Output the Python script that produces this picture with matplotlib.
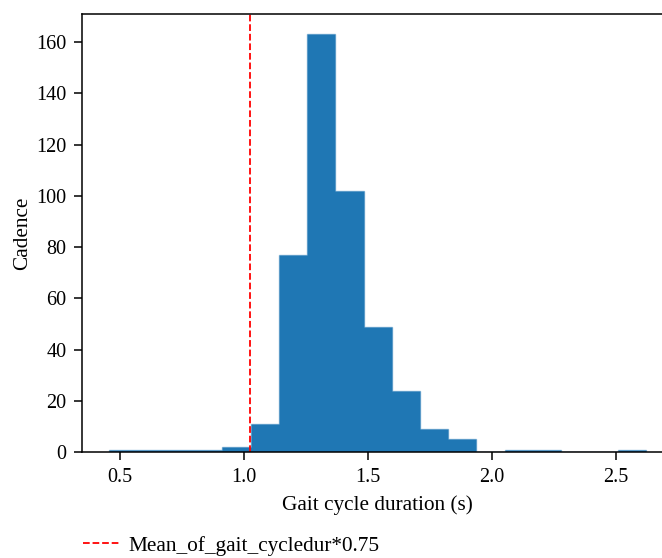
import numpy as np
import matplotlib
matplotlib.use("Agg")
import matplotlib.pyplot as plt
from matplotlib.colors import to_rgba

# histogram of gait cycle durations (seconds), 19 equal bins
bin_start = 0.457
bin_stop = 2.621
n_bins = 19
counts = [1, 1, 1, 1, 2, 11, 77, 163, 102, 49, 24, 9, 5, 0, 1, 1, 0, 0, 1]

# threshold: mean gait cycle duration * 0.75
threshold = 1.025
threshold_label = "Mean_of_gait_cycledur*0.75"

plt.rcParams["font.family"] = ["Liberation Serif", "DejaVu Serif"]
plt.rcParams["font.size"] = 14.5

edges = np.linspace(bin_start, bin_stop, n_bins + 1)
centers = (edges[:-1] + edges[1:]) / 2

fig = plt.figure(figsize=(6.62, 5.58), dpi=100)
ax = fig.add_axes([0.1246, 0.1894, 0.8917, 0.7864])

bar_color = "#1f77b4"
ax.hist(centers, bins=edges, weights=counts, histtype="stepfilled",
        facecolor=bar_color, edgecolor=to_rgba(bar_color, 0.45), linewidth=1.0)
line = ax.axvline(threshold, color="red", linestyle="--", linewidth=1.3,
                  label=threshold_label)

ax.set_xlabel("Gait cycle duration (s)", labelpad=6, fontsize=15.3)
ax.set_ylabel("Cadence", labelpad=3, fontsize=15.3)
ax.set_xticks([0.5, 1.0, 1.5, 2.0, 2.5])
ax.set_yticks(range(0, 161, 20))
ax.tick_params(length=5.5, width=1.1, pad=6)
for s in ax.spines.values():
    s.set_linewidth(1.1)

fig.legend(handles=[line], loc="center left", bbox_to_anchor=(0.097, 0.022),
           frameon=False, handlelength=1.75, handletextpad=0.35, fontsize=15.3)

fig.savefig("out.png", dpi=100)
